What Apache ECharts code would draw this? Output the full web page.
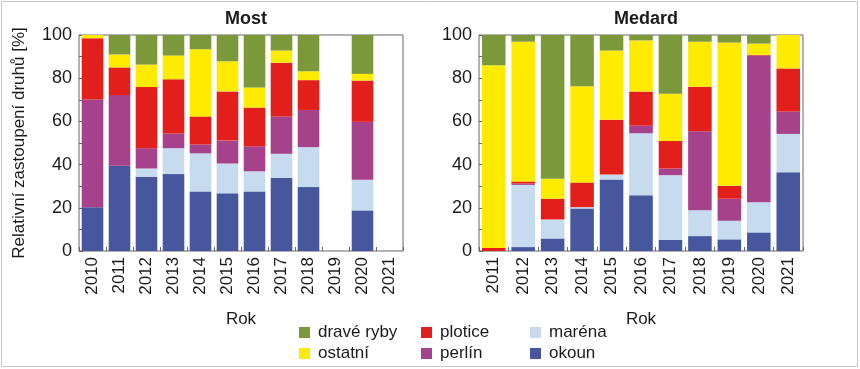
<!DOCTYPE html>
<html><head><meta charset="utf-8">
<script src="https://cdn.jsdelivr.net/npm/echarts@6/dist/echarts.min.js"></script>
<style>html,body{margin:0;padding:0;background:#fff}#c{width:860px;height:369px}</style>
</head><body><div id="c"></div>
<script>
const yearsMost = ['2010','2011','2012','2013','2014','2015','2016','2017','2018','2019','2020','2021'];
const yearsMedard = ['2011','2012','2013','2014','2015','2016','2017','2018','2019','2020','2021'];
const seriesNames = ['okoun','maréna','perlín','plotice','ostatní','dravé ryby'];
const seriesColors = ['#46579e','#c7dbef','#a6418c','#e21f1a','#ffeb00','#7b983a'];
// Most
const mostOkoun   = [20.3, 39.5, 34.4, 35.6, 27.6, 26.7, 27.6, 33.9, 29.6, null, 18.8, null];
const mostMarena  = [0, 0, 3.8, 12.0, 17.6, 13.8, 9.3, 11.1, 18.5, null, 14.2, null];
const mostPerlin  = [49.8, 32.7, 9.4, 6.8, 4.1, 10.6, 11.6, 17.3, 17.2, null, 26.8, null];
const mostPlotice = [28.4, 12.8, 28.3, 25.1, 13.0, 22.8, 17.9, 24.9, 13.8, null, 19.1, null];
const mostOstatni = [1.5, 6.0, 10.4, 11.0, 31.1, 13.9, 9.3, 5.6, 4.1, null, 3.1, null];
const mostDrave   = [0, 9.0, 13.7, 9.5, 6.6, 12.2, 24.3, 7.2, 16.8, null, 18.0, null];
// Medard
const medOkoun   = [0, 1.8, 5.8, 19.7, 33.1, 25.8, 5.2, 6.9, 5.4, 8.6, 36.5];
const medMarena  = [0, 28.8, 8.8, 0.6, 2.3, 28.7, 29.9, 12.0, 8.6, 14.0, 17.7];
const medPerlin  = [0, 0.6, 0, 0, 0, 3.5, 3.1, 36.5, 10.2, 67.9, 10.4];
const medPlotice = [1.4, 1.0, 9.6, 11.4, 25.4, 15.8, 12.7, 20.6, 6.0, 0.3, 19.9];
const medOstatni = [84.6, 64.7, 9.2, 44.6, 32.0, 23.7, 21.9, 20.9, 66.3, 5.2, 15.5];
const medDrave   = [14.0, 3.1, 66.6, 23.7, 7.2, 2.5, 27.2, 3.1, 3.5, 4.3, 0];
const yTicks = [0, 20, 40, 60, 80, 100];

const mostData = [mostOkoun, mostMarena, mostPerlin, mostPlotice, mostOstatni, mostDrave];
const medData  = [medOkoun, medMarena, medPerlin, medPlotice, medOstatni, medDrave];

const FONT = 'Liberation Sans, Arial, sans-serif';
const TXT = '#1a1a1a';

function xAxis(idx, cats) {
  return {
    type: 'category', gridIndex: idx, data: cats,
    axisLine: {show: false},
    axisTick: {show: true, inside: true, length: 4, lineStyle: {color: '#666'}},
    axisLabel: {rotate: 90, color: TXT, fontSize: 17, fontFamily: FONT, margin: 6},
    name: 'Rok', nameLocation: 'middle', nameGap: 60,
    nameTextStyle: {color: TXT, fontSize: 17, fontFamily: FONT}
  };
}
function yAxis(idx, withName) {
  const a = {
    type: 'value', gridIndex: idx, min: 0, max: 100, interval: 10,
    axisLine: {show: false},
    axisTick: {show: true, inside: true, length: 4, lineStyle: {color: '#666'}},
    splitLine: {show: false},
    axisLabel: {color: TXT, fontSize: 18, fontFamily: FONT, margin: 7,
      formatter: v => yTicks.includes(v) ? String(v) : ''}
  };
  if (withName) {
    a.name = 'Relativní zastoupení druhů [%]';
    a.nameLocation = 'middle'; a.nameGap = 51; a.nameRotate = 90;
    a.nameTextStyle = {color: TXT, fontSize: 17, fontFamily: FONT};
  }
  return a;
}

const series = [];
[mostData, medData].forEach((d, gi) => {
  d.forEach((vals, si) => {
    series.push({
      type: 'bar', name: seriesNames[si], xAxisIndex: gi, yAxisIndex: gi,
      stack: 's' + gi, data: vals, barCategoryGap: '20%',
      itemStyle: {color: seriesColors[si]}
    });
  });
});

const legendPos = [
  ['dravé ryby', 294, 319], ['plotice', 416, 319], ['maréna', 525, 319],
  ['ostatní', 294, 340], ['perlín', 416, 340], ['okoun', 525, 340]
];
const legends = legendPos.map(([n, l, t]) => ({
  data: [n], left: l, top: t, itemWidth: 11, itemHeight: 11, itemGap: 0,
  icon: 'rect', textStyle: {color: TXT, fontSize: 17, fontFamily: FONT, padding: [0,0,0,3]},
  selectedMode: false
}));

const chart = echarts.init(document.getElementById('c'), null, {renderer: 'canvas'});
chart.setOption({
  animation: false,
  title: [
    {text: 'Most', left: 241, top: 5, textAlign: 'center',
     textStyle: {fontSize: 18, fontWeight: 'bold', color: TXT, fontFamily: FONT}},
    {text: 'Medard', left: 641, top: 5, textAlign: 'center',
     textStyle: {fontSize: 18, fontWeight: 'bold', color: TXT, fontFamily: FONT}}
  ],
  legend: legends,
  grid: [
    {left: 79, top: 35, width: 324, height: 216, show: true, borderColor: '#666', borderWidth: 1, backgroundColor: 'transparent'},
    {left: 479, top: 35, width: 324, height: 216, show: true, borderColor: '#666', borderWidth: 1, backgroundColor: 'transparent'}
  ],
  xAxis: [xAxis(0, yearsMost), xAxis(1, yearsMedard)],
  yAxis: [yAxis(0, true), yAxis(1, false)],
  series: series,
  graphic: [{type: 'rect', shape: {x: 1.5, y: 1.5, width: 856, height: 365},
    style: {fill: 'none', stroke: '#c8c8c8', lineWidth: 1}, silent: true}]
});
</script></body></html>
